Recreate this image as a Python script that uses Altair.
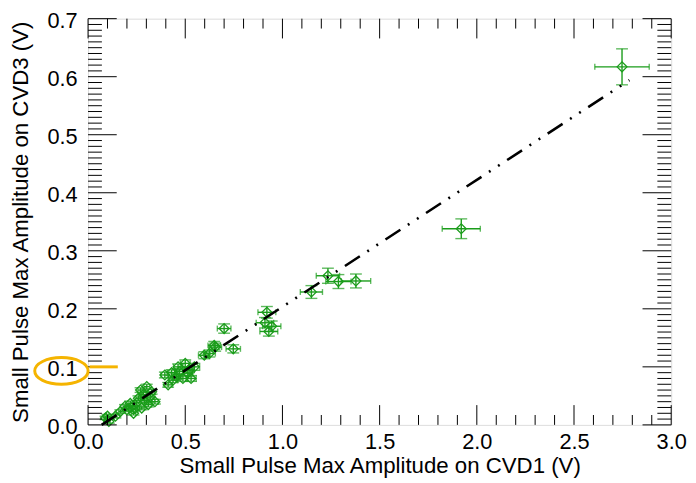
import altair as alt
import pandas as pd

# ---- data ----
cvd1 = [2.747, 1.920, 1.378, 1.288, 1.234, 1.149, 0.920, 0.910, 0.945, 0.930,
        0.700, 0.654, 0.747, 0.598, 0.624, 0.649, 0.500, 0.547, 0.463, 0.520,
        0.470, 0.430, 0.513, 0.395, 0.454, 0.488, 0.530, 0.437, 0.412, 0.302,
        0.270, 0.327, 0.285, 0.320, 0.259, 0.290, 0.344, 0.250, 0.217, 0.310,
        0.190, 0.220, 0.242, 0.276, 0.200, 0.166, 0.234, 0.141, 0.100, 0.090,
        0.107]
cvd3 = [0.617, 0.338, 0.248, 0.247, 0.257, 0.229, 0.194, 0.176, 0.170, 0.161,
        0.166, 0.134, 0.131, 0.120, 0.123, 0.137, 0.106, 0.100, 0.100, 0.095,
        0.092, 0.090, 0.089, 0.086, 0.083, 0.080, 0.080, 0.077, 0.069, 0.066,
        0.060, 0.057, 0.052, 0.048, 0.046, 0.042, 0.040, 0.038, 0.037, 0.035,
        0.032, 0.030, 0.029, 0.029, 0.026, 0.023, 0.020, 0.015, 0.015, 0.012,
        0.006]
cvd1_err = [0.140, 0.098, 0.076, 0.065, 0.060, 0.057, 0.046, 0.045, 0.047, 0.046,
            0.035, 0.033, 0.037, 0.030, 0.031, 0.032, 0.025, 0.027, 0.023, 0.026,
            0.024, 0.022, 0.026, 0.020, 0.023, 0.024, 0.026, 0.022, 0.021, 0.015,
            0.014, 0.016, 0.014, 0.016, 0.013, 0.015, 0.017, 0.013, 0.011, 0.016,
            0.010, 0.011, 0.012, 0.014, 0.010, 0.009, 0.012, 0.008, 0.007, 0.007,
            0.007]
cvd3_err = [0.031, 0.017, 0.012, 0.012, 0.013, 0.011, 0.010, 0.009, 0.009, 0.008,
            0.008, 0.007, 0.007, 0.006, 0.006, 0.007, 0.006, 0.006, 0.005, 0.005,
            0.005, 0.005, 0.005, 0.005, 0.005, 0.005, 0.005, 0.004, 0.004, 0.004,
            0.004, 0.004, 0.004, 0.004, 0.004, 0.004, 0.004, 0.004, 0.004, 0.004,
            0.003, 0.003, 0.003, 0.003, 0.003, 0.003, 0.003, 0.003, 0.003, 0.003,
            0.003]

fit_x = [0.070, 2.785]
fit_y = [0.000, 0.594]

x_major = [0.0, 0.5, 1.0, 1.5, 2.0, 2.5, 3.0]
x_minor = [round(i * 0.1, 2) for i in range(31) if i % 5 != 0]
y_major = [0.0, 0.1, 0.2, 0.3, 0.4, 0.5, 0.6, 0.7]
y_minor = [round(i * 0.01, 3) for i in range(71) if i % 10 != 0]

x_title = "Small Pulse Max Amplitude on CVD1  (V)"
y_title = "Small Pulse Max Amplitude on CVD3 (V)"

# annotation (data units)
ann_ellipse_x = [-0.137]
ann_ellipse_y = [0.093]
ann_line_x = [0.008]
ann_line_x2 = [0.153]
ann_line_y = [0.1]

W, H = 590, 411
GREEN = "#1a9c1a"
ORANGE = "#f5b400"
FONT = "Liberation Sans"

df = pd.DataFrame({"x": cvd1, "y": cvd3, "xe": cvd1_err, "ye": cvd3_err})
xs = alt.Scale(domain=[0, 3], nice=False, zero=False)
ys = alt.Scale(domain=[0, 0.7], nice=False, zero=False)

XA = dict(values=x_major, format=".1f", title=x_title,
          domain=False, ticks=False, grid=False, labelFontSize=22, titleFontSize=22.5,
          labelFont=FONT, titleFont=FONT, titleFontWeight="normal", labelPadding=7,
          titleY=48, titleBaseline="alphabetic", labelColor="black", titleColor="black",
          labelFlush=False)
YA = dict(values=y_major, format=".1f", title=y_title,
          domain=False, ticks=False, grid=False, labelFontSize=22, titleFontSize=22.5,
          labelFont=FONT, titleFont=FONT, titleFontWeight="normal", labelPadding=11,
          labelOffset=2,
          titleX=-56, titleY=H / 2, titleAngle=-90, titleBaseline="bottom",
          labelColor="black", titleColor="black", labelFlush=False)


def X(f):
    return alt.X(f, scale=xs, axis=alt.Axis(**XA))


def Y(f):
    return alt.Y(f, scale=ys, axis=alt.Axis(**YA))


base = alt.Chart(df).transform_calculate(
    xlo="datum.x - datum.xe", xhi="datum.x + datum.xe",
    ylo="datum.y - datum.ye", yhi="datum.y + datum.ye")

points = base.mark_point(shape="diamond", size=100, filled=False, color=GREEN,
                         strokeWidth=1.3, opacity=1).encode(x=X("x:Q"), y=Y("y:Q"))

xbars = base.mark_rule(color=GREEN, strokeWidth=1.4).encode(
    x=X("xlo:Q"), x2="xhi:Q", y=Y("y:Q"))
ybars = base.mark_rule(color=GREEN, strokeWidth=1.4).encode(
    x=X("x:Q"), y=Y("ylo:Q"), y2="yhi:Q")
xcaps = base.transform_fold(["xlo", "xhi"], as_=["k", "v"]).mark_tick(
    color=GREEN, orient="vertical", size=6, thickness=1.4).encode(x=X("v:Q"), y=Y("y:Q"))
ycaps = base.transform_fold(["ylo", "yhi"], as_=["k", "v"]).mark_tick(
    color=GREEN, orient="horizontal", size=12, thickness=1.4).encode(x=X("x:Q"), y=Y("v:Q"))

fit = alt.Chart(pd.DataFrame({"x": fit_x, "y": fit_y})).mark_line(
    color="black", strokeWidth=2.6, strokeDash=[18, 9, 2, 9, 2, 9], strokeCap="butt").encode(
    x=X("x:Q"), y=Y("y:Q"))


def xticks(vals, length):
    d = alt.Chart(pd.DataFrame({"v": vals}))
    b = d.mark_rule(color="black", strokeWidth=1).encode(
        x=X("v:Q"), y=alt.value(H), y2=alt.value(H - length))
    t = d.mark_rule(color="black", strokeWidth=1).encode(
        x=X("v:Q"), y=alt.value(0), y2=alt.value(length))
    return [b, t]


def yticks(vals, length):
    d = alt.Chart(pd.DataFrame({"v": vals}))
    l = d.mark_rule(color="black", strokeWidth=1).encode(
        y=Y("v:Q"), x=alt.value(0), x2=alt.value(length))
    r = d.mark_rule(color="black", strokeWidth=1).encode(
        y=Y("v:Q"), x=alt.value(W), x2=alt.value(W - length))
    return [l, r]


ticks = xticks(x_major, 20) + xticks(x_minor, 10) + yticks(y_major, 29) + yticks(y_minor, 14)

ellipse = alt.Chart(pd.DataFrame({"x": ann_ellipse_x, "y": ann_ellipse_y})).mark_point(
    shape="M -1 0 A 1 0.5 0 1 0 1 0 A 1 0.5 0 1 0 -1 0 Z", size=2916, filled=False,
    color=ORANGE, strokeWidth=3, opacity=1, clip=False).encode(x=X("x:Q"), y=Y("y:Q"))
pointer = alt.Chart(pd.DataFrame({"x": ann_line_x, "x2": ann_line_x2, "y": ann_line_y})).mark_rule(
    color=ORANGE, strokeWidth=3).encode(x=X("x:Q"), x2="x2:Q", y=Y("y:Q"))

chart = alt.layer(points, xbars, ybars, xcaps, ycaps, fit, *ticks, pointer, ellipse).properties(
    width=W, height=H,
    autosize=alt.AutoSizeParams(type="none"),
    padding={"left": 81, "top": 8, "right": 17, "bottom": 56},
).configure_view(stroke="black", strokeWidth=1.2).configure(background="white")

chart.save("out.html", embed_options={"renderer": "svg", "actions": False})
